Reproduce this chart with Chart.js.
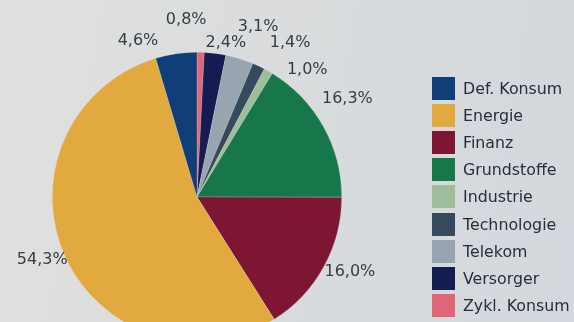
<!DOCTYPE html>
<html>
<head>
<meta charset="utf-8">
<script src="https://cdn.jsdelivr.net/npm/chart.js@4"></script>
<style>
  html, body { margin: 0; padding: 0; }
  body {
    width: 574px; height: 322px; overflow: hidden; position: relative;
    background: linear-gradient(100deg, #e0e0df 0%, #dadcdd 45%, #d2d8dd 100%);
    font-family: "DejaVu Sans", sans-serif;
  }
  #wrap { position: absolute; left: 0; top: 0; width: 574px; height: 360px; }
  #legend { position: absolute; left: 432px; top: 75px; }
  .row { display: flex; align-items: center; height: 27.1px; }
  .sw { width: 23px; height: 23px; margin-right: 8px; }
  .lab { font-size: 15.8px; color: #252e3b; white-space: nowrap; }
</style>
</head>
<body>
<div id="wrap"><canvas id="pie" width="574" height="360"></canvas></div>
<div id="legend"></div>
<script>
// drawn clockwise from 12 o'clock; legend shows them in reverse
const sectors = ['Zykl. Konsum', 'Versorger', 'Telekom', 'Technologie', 'Industrie',
                 'Grundstoffe', 'Finanz', 'Energie', 'Def. Konsum'];
const shares = [0.8, 2.4, 3.1, 1.4, 1.0, 16.3, 16.0, 54.3, 4.6];
const shareLabels = ['0,8%', '2,4%', '3,1%', '1,4%', '1,0%', '16,3%', '16,0%', '54,3%', '4,6%'];
const colors = ['#de6676', '#151c52', '#98a5b0', '#364a5d', '#9dbd9b',
                '#17774a', '#7c1632', '#e2a93e', '#0f3e78'];

// label nudges away from the default spot outside each slice
const nudges = [[-15, -11], [8, 11], [12, -11], [22, -3], [28, 18],
                [5, -17], [7, -6], [-3, -6], [-35, 9]];

const outsideLabels = {
    id: 'outsideLabels',
    afterDatasetsDraw(chart) {
        const ctx = chart.ctx;
        const meta = chart.getDatasetMeta(0);
        ctx.save();
        ctx.font = '16px "DejaVu Sans"';
        ctx.fillStyle = '#363c46';
        ctx.textAlign = 'center';
        ctx.textBaseline = 'middle';
        meta.data.forEach((arc, i) => {
            const p = arc.getProps(['x', 'y', 'startAngle', 'endAngle', 'outerRadius'], true);
            const mid = (p.startAngle + p.endAngle) / 2;
            const r = p.outerRadius + 22;
            const x = p.x + Math.cos(mid) * r + nudges[i][0];
            const y = p.y + Math.sin(mid) * r + nudges[i][1];
            ctx.fillText(shareLabels[i], x, y);
        });
        ctx.restore();
    }
};

new Chart(document.getElementById('pie'), {
    type: 'pie',
    data: {
        labels: sectors,
        datasets: [{
            data: shares,
            backgroundColor: colors,
            borderColor: 'rgba(235,235,230,0.35)',
            borderWidth: 0.6
        }]
    },
    options: {
        responsive: false,
        animation: false,
        layout: { padding: { left: 52, top: 52, right: 232, bottom: 18 } },
        plugins: {
            legend: { display: false },
            tooltip: { enabled: false }
        }
    },
    plugins: [outsideLabels]
});

// legend in reverse drawing order
const legend = document.getElementById('legend');
sectors.slice().reverse().forEach((name, k) => {
    const i = sectors.length - 1 - k;
    const row = document.createElement('div');
    row.className = 'row';
    row.innerHTML = '<div class="sw" style="background:' + colors[i] + '"></div><span class="lab">' + name + '</span>';
    legend.appendChild(row);
});
</script>
</body>
</html>
